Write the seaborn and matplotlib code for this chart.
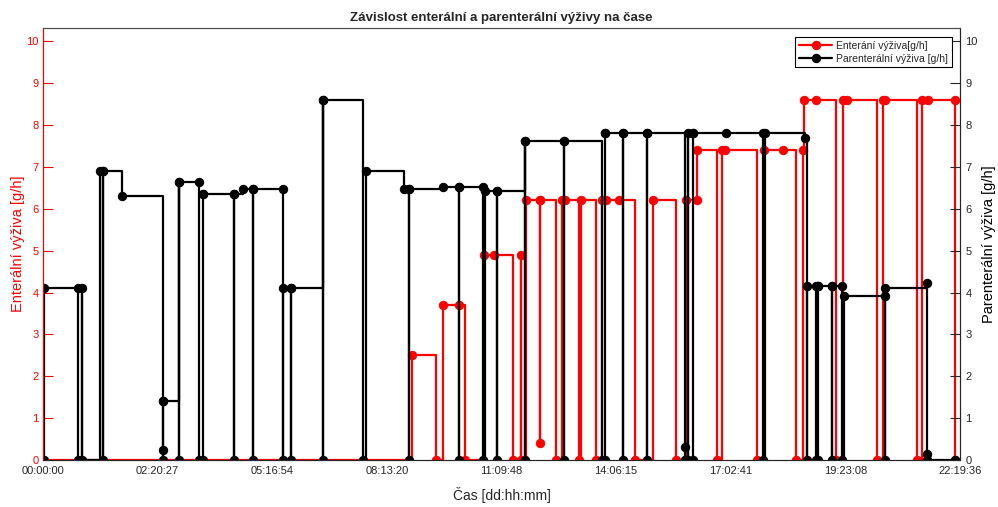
import matplotlib
matplotlib.use("Agg")
import matplotlib.pyplot as plt
import pandas as pd
import seaborn as sns

# Time since start of monitoring [days]; feeding rate [g/h]
enteral_t = [0.00, 9.18, 9.78, 9.95, 10.35, 10.50, 10.97, 11.22, 11.69, 11.89, 11.89,
             12.02, 12.37, 12.37, 12.37, 12.76, 12.91, 12.99, 13.34, 13.39, 13.76,
             13.91, 14.01, 14.33, 14.73, 15.18, 15.75, 16.00, 16.27, 16.27, 16.77,
             16.89, 16.97, 17.77, 17.94, 18.41, 18.74, 18.91, 18.94, 19.23, 19.73,
             19.91, 20.01, 20.75, 20.90, 20.95, 21.75, 21.87, 22.02, 22.69, 22.69]
enteral_v = [0.0, 2.5, 0.0, 3.7, 3.7, 0.0, 4.9, 4.9, 0.0, 4.9, 0.0,
             6.2, 6.2, 0.4, 6.2, 0.0, 6.2, 6.2, 0.0, 6.2, 0.0,
             6.2, 6.2, 6.2, 0.0, 6.2, 0.0, 6.2, 6.2, 7.4, 0.0,
             7.4, 7.4, 0.0, 7.4, 7.4, 0.0, 7.4, 8.6, 8.6, 0.0,
             8.6, 8.6, 0.0, 8.6, 8.6, 0.0, 8.6, 8.6, 8.6, 0.0]

parenteral_t = [0.02, 0.02, 0.87, 0.87, 0.97, 0.97, 1.42, 1.49, 1.49, 1.49,
                1.97, 2.99, 2.99, 2.99, 2.99, 3.38, 3.38, 3.38, 3.88, 3.88,
                3.98, 3.98, 3.98, 4.75, 4.75, 4.75, 4.98, 5.23, 5.23, 5.23,
                5.97, 5.97, 5.97, 6.17, 6.17, 6.17, 6.97, 6.97, 6.97, 7.96,
                8.04, 8.98, 9.11, 9.11, 9.11, 9.95, 10.35, 10.35, 10.35, 10.95,
                10.95, 11.00, 11.30, 11.30, 11.30, 11.99, 11.99, 11.99, 12.96, 12.96,
                12.96, 13.91, 13.98, 13.98, 13.98, 14.43, 14.43, 14.43, 15.03, 15.03,
                15.03, 15.97, 15.97, 15.97, 16.05, 16.05, 16.17, 16.17, 16.17, 16.99,
                17.92, 17.92, 17.96, 18.96, 19.01, 19.01, 19.23, 19.23, 19.28, 19.28,
                19.28, 19.63, 19.63, 19.63, 19.88, 19.88, 19.93, 20.95, 20.95, 20.95,
                22.00, 22.00, 22.00, 22.00, 22.69]
parenteral_v = [0.0, 4.1, 4.1, 0.0, 4.1, 0.0, 6.9, 6.9, 0.0, 6.9,
                6.3, 1.4, 0.25, 0.0, 1.4, 6.65, 0.0, 6.65, 6.65, 0.0,
                6.35, 0.0, 6.35, 6.35, 0.0, 6.35, 6.47, 6.47, 0.0, 6.47,
                6.47, 0.0, 4.1, 4.1, 0.0, 4.1, 8.6, 0.0, 8.6, 0.0,
                6.9, 6.47, 6.47, 0.0, 6.47, 6.53, 6.53, 0.0, 6.53, 6.53,
                0.0, 6.43, 6.43, 0.0, 6.43, 7.63, 0.0, 7.63, 7.63, 0.0,
                7.63, 0.0, 7.82, 0.0, 7.82, 7.82, 0.0, 7.82, 7.82, 0.0,
                7.82, 0.0, 0.3, 0.0, 7.82, 0.0, 7.82, 0.0, 7.82, 7.82,
                7.82, 0.0, 7.82, 7.7, 0.0, 4.15, 4.15, 0.0, 4.15, 0.0,
                4.15, 4.15, 0.0, 4.15, 4.15, 0.0, 3.92, 3.92, 0.0, 4.1,
                4.22, 0.0, 0.15, 0.0, 0.0]

tick_labels = ["00:00:00", "02:20:27", "05:16:54", "08:13:20", "11:09:48",
               "14:06:15", "17:02:41", "19:23:08", "22:19:36"]

enteral_label = "Enterání výživa[g/h]"
parenteral_label = "Parenterální výživa [g/h]"


def to_days(stamp):
    d, h, m = (int(p) for p in stamp.split(":"))
    return d + h / 24 + m / 1440


tick_pos = [to_days(s) for s in tick_labels]

sns.set_theme(style="white")
plt.rcParams["font.family"] = ["Liberation Sans", "DejaVu Sans"]

W, H = 998, 507
fig = plt.figure(figsize=(W / 100, H / 100), dpi=100)
ax = fig.add_axes([43 / W, 47 / H, 917 / W, 432 / H])
ax2 = ax.twinx()

ent = pd.DataFrame({"t": enteral_t, "v": enteral_v})
par = pd.DataFrame({"t": parenteral_t, "v": parenteral_v})

line_kw = dict(sort=False, estimator=None, drawstyle="steps-post", marker="o",
               markersize=6, linewidth=1.6)
sns.lineplot(data=ent, x="t", y="v", ax=ax, color="red",
             markerfacecolor="red", markeredgecolor="red", **line_kw)
sns.lineplot(data=par, x="t", y="v", ax=ax2, color="black",
             markerfacecolor="black", markeredgecolor="black", **line_kw)

ymax = 10.32
for a in (ax, ax2):
    a.set_xlim(0, tick_pos[-1])
    a.set_ylim(0, ymax)
    a.set_yticks(range(0, 11))
    a.grid(False)

ax.set_xticks(tick_pos)
ax.set_xticklabels(tick_labels)
ax.tick_params(axis="x", direction="in", length=5, width=0.8, colors="#262626",
               labelsize=8, pad=4)
ax.tick_params(axis="y", direction="in", length=7, width=0.8, colors="red",
               labelsize=8, pad=3)
ax2.tick_params(axis="y", direction="in", length=7, width=0.8, colors="#262626",
                labelsize=8, pad=4)

ax.set_xlabel("Čas [dd:hh:mm]", fontsize=10, color="#262626", labelpad=8)
ax.set_ylabel("Enterální výživa [g/h]", fontsize=10.5, color="red", labelpad=1)
ax2.set_ylabel(parenteral_label, fontsize=10.5, color="black", labelpad=3)
ax.set_title("Závislost enterální a parenterální výživy na čase",
             fontsize=9.5, fontweight="bold", pad=5)

for a in (ax, ax2):
    for s in a.spines.values():
        s.set_linewidth(0.8)
    a.spines["top"].set_color("#4d4d4d")
    a.spines["bottom"].set_color("#262626")
    a.spines["left"].set_color("red")
    a.spines["right"].set_color("#262626")

leg_handles = [ax.lines[0], ax2.lines[0]]
if ax.get_legend() is not None:
    ax.get_legend().remove()
if ax2.get_legend() is not None:
    ax2.get_legend().remove()
leg = ax2.legend(leg_handles, [enteral_label, parenteral_label],
                 loc="upper right", bbox_to_anchor=(952 / W, 1 - 37 / H),
                 bbox_transform=fig.transFigure, fontsize=7.5, frameon=True,
                 fancybox=False, edgecolor="black", framealpha=1,
                 handlelength=3.2, handletextpad=0.4, borderpad=0.35,
                 labelspacing=0.3, borderaxespad=0)
leg.get_frame().set_linewidth(0.8)

fig.savefig("out.png", dpi=100)
